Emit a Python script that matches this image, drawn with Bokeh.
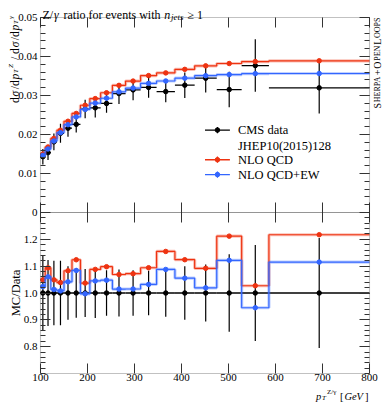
import math
from bokeh.plotting import figure
from bokeh.models import Range1d, LinearAxis, FixedTicker, Label, BoxAnnotation
from bokeh.embed import file_html
from bokeh.resources import INLINE
from bokeh.core.properties import value

# ---------------- data ----------------
bin_edges = [100, 110, 122, 135, 150, 167, 185, 205, 228, 253, 281, 313, 347, 386, 428, 475, 528, 586, 800]
cms_data = [0.01430, 0.01536, 0.01811, 0.02031, 0.02161, 0.02260, 0.02652, 0.02684, 0.02796,
            0.03050, 0.03144, 0.03208, 0.03100, 0.03265, 0.03443, 0.03152, 0.03768, 0.03196]
cms_err = [0.00200, 0.00189, 0.00217, 0.00244, 0.00216, 0.00208, 0.00236, 0.00250, 0.00238,
           0.00268, 0.00267, 0.00266, 0.00273, 0.00327, 0.00365, 0.00454, 0.00675, 0.00655]
nlo_qcd = [0.01500, 0.01680, 0.01900, 0.02110, 0.02340, 0.02540, 0.02750, 0.02920, 0.03070,
           0.03260, 0.03370, 0.03510, 0.03580, 0.03670, 0.03760, 0.03820, 0.03870, 0.03890]
nlo_qcd_ew = [0.01464, 0.01629, 0.01835, 0.02047, 0.02251, 0.02450, 0.02644, 0.02805, 0.02930,
              0.03095, 0.03191, 0.03311, 0.03372, 0.03445, 0.03509, 0.03536, 0.03561, 0.03564]

x_ticks = [100, 200, 300, 400, 500, 600, 700, 800]
top_ticks = [0, 0.01, 0.02, 0.03, 0.04, 0.05]
top_minor = [round(0.002 * k, 4) for k in range(26)]
ratio_ticks = [0.8, 0.9, 1.0, 1.1, 1.2]
ratio_minor = [round(0.7 + 0.02 * k, 2) for k in range(31)]

legend_labels = ["CMS data", "JHEP10(2015)128", "NLO QCD", "NLO QCD+EW"]

# ---------------- style / layout ----------------
FONT = "Liberation Serif"
RED, BLUE, BLACK = "#EE3311", "#3366FF", "#000000"
FRAME = "#333333"
TICK_FS = "11px"

W, H = 382, 402                 # canvas
FL, FR = 40, 369                # panel left / right (canvas px)
FT, FM, FB = 17, 212, 373       # top of main panel, panel split, bottom of ratio panel
X0, X1 = 100, 800
top_end = 0.05
ratio_lo, ratio_hi = 0.7, 1.3

kx = (X1 - X0) / (FR - FL)
ky = top_end / (FM - FT)
kr = (ratio_hi - ratio_lo) / (FB - FM)

p = figure(width=W, height=H,
           x_range=Range1d(X0 - FL * kx, X1 + (W - FR) * kx),
           y_range=Range1d(0 - (H - FM) * ky, top_end + FT * ky),
           x_axis_type=None, y_axis_type=None, toolbar_location=None, output_backend="svg",
           min_border=0, min_border_left=0, min_border_right=0, min_border_top=0, min_border_bottom=0)
p.extra_y_ranges = {"ratio": Range1d(ratio_lo - (H - FB) * kr, ratio_hi + FM * kr)}
p.outline_line_color = None
p.background_fill_color = "white"
p.border_fill_color = "white"


def axis(ticks, minor, loc, yname="default", show=False, tin=10, tout=0, standoff=3, overrides=None):
    ax = LinearAxis(ticker=FixedTicker(ticks=ticks, minor_ticks=minor), fixed_location=loc,
                    y_range_name=yname, axis_line_color=None,
                    major_tick_in=tin, major_tick_out=tout, minor_tick_in=5, minor_tick_out=0,
                    major_tick_line_color=FRAME, minor_tick_line_color=FRAME,
                    major_label_standoff=standoff,
                    major_label_text_font=FONT, major_label_text_font_size=TICK_FS,
                    major_label_text_color=BLACK if show else None)
    if overrides:
        ax.major_label_overrides = overrides
    return ax


ratio_labels = {t: f"{t:.1f}" for t in ratio_ticks}
# y axes (main panel)
p.add_layout(axis(top_ticks, top_minor, X0, show=True, overrides={0: "0"}), "left")
p.add_layout(axis(top_ticks, top_minor, X1), "right")
# y axes (ratio panel)
p.add_layout(axis(ratio_ticks, ratio_minor, X0, yname="ratio", show=True, overrides=ratio_labels), "left")
p.add_layout(axis(ratio_ticks, ratio_minor, X1, yname="ratio"), "right")
# x axes
p.add_layout(axis(x_ticks, [], top_end), "above")
p.add_layout(axis(x_ticks, [], 0, tin=10, tout=10), "below")
p.add_layout(axis(x_ticks, [], ratio_lo, yname="ratio", show=True, standoff=0), "below")

# panel frames
p.add_layout(BoxAnnotation(left=X0, right=X1, bottom=0, top=top_end, fill_color=None,
                           line_color=FRAME, line_width=1.1))
p.add_layout(BoxAnnotation(left=X0, right=X1, bottom=ratio_lo, top=ratio_hi, y_range_name="ratio",
                           fill_color=None, line_color=FRAME, line_width=1.1))

# ---------------- derived quantities ----------------
centers = [(a + b) / 2 for a, b in zip(bin_edges[:-1], bin_edges[1:])]
lefts, rights = bin_edges[:-1], bin_edges[1:]


def stepy(v):
    return list(v) + [v[-1]]


def draw_mc(vals, color, yname="default"):
    p.step(bin_edges, stepy(vals), mode="after", line_color=color, line_width=3.2, line_alpha=0.3,
           y_range_name=yname)
    p.step(bin_edges, stepy(vals), mode="after", line_color=color, line_width=1.2, y_range_name=yname)
    p.scatter(centers, vals, size=4.5, color=color, y_range_name=yname)


def draw_data(vals, errs, yname="default", lw=1.3):
    p.segment(x0=lefts, x1=rights, y0=vals, y1=vals, line_color=BLACK, line_width=lw, y_range_name=yname)
    p.segment(x0=centers, x1=centers, y0=[v - e for v, e in zip(vals, errs)],
              y1=[v + e for v, e in zip(vals, errs)], line_color=BLACK, line_width=1.2, y_range_name=yname)
    p.scatter(centers, vals, size=4.5, color=BLACK, y_range_name=yname)


# main panel
draw_data(cms_data, cms_err)
draw_mc(nlo_qcd, RED)
draw_mc(nlo_qcd_ew, BLUE)

# ratio panel
r_data = [d / d for d in cms_data]
r_err = [e / d for e, d in zip(cms_err, cms_data)]
r_qcd = [m / d for m, d in zip(nlo_qcd, cms_data)]
r_ew = [m / d for m, d in zip(nlo_qcd_ew, cms_data)]
draw_data(r_data, r_err, "ratio", lw=1.6)
draw_mc(r_qcd, RED, "ratio")
draw_mc(r_ew, BLUE, "ratio")

# ---------------- legend (layout positions in data space of the main panel) ----------------
leg_x0, leg_x1, leg_xt = 450, 503, 520
leg_rows = [0.02114, 0.01693, 0.01353, 0.00972]
leg_bar = 0.0008
leg_colors = [BLACK, None, RED, BLUE]
for lab, yy, col in zip(legend_labels, leg_rows, leg_colors):
    if col is not None:
        xm = (leg_x0 + leg_x1) / 2
        p.segment(x0=[leg_x0], x1=[leg_x1], y0=[yy], y1=[yy], line_color=col, line_width=1.3)
        p.segment(x0=[xm], x1=[xm], y0=[yy - leg_bar], y1=[yy + leg_bar], line_color=col, line_width=1.2)
        p.scatter([xm], [yy], size=4.5, color=col)
    p.text(x=[leg_xt], y=[yy], text=[lab], text_font=value(FONT), text_font_size="12.5px",
           text_baseline="middle", text_align="left", text_color=BLACK)

# ---------------- free texts ----------------
EM = {' ': .25, '/': .278, '+': .564, '(': .333, ')': .333, '[': .333, ']': .333, '.': .25,
      '≥': .549, 'σ': .55, 'γ': .48,
      'A': .722, 'C': .667, 'D': .722, 'E': .611, 'G': .722, 'H': .722, 'J': .389, 'L': .611,
      'M': .889, 'N': .722, 'O': .722, 'P': .556, 'Q': .722, 'R': .667, 'S': .556, 'T': .611,
      'V': .722, 'W': .944, 'Z': .611,
      'a': .444, 'd': .5, 'e': .444, 'f': .333, 'h': .5, 'i': .278, 'j': .278, 'n': .5, 'o': .5,
      'p': .5, 'r': .333, 's': .389, 't': .278, 'v': .5, 'w': .722}
GAP = 0.8


def tw(t, s):
    return sum(EM.get(c, .5) for c in t) * s


def place(pieces, x0, y0, rotated=False, anchor="start"):
    total = sum(tw(t, s) + GAP for t, s, st, dy in pieces) - GAP
    pos = 0.0
    for t, s, st, dy in pieces:
        lead = tw(t[:len(t) - len(t.lstrip(" "))], s)
        txt = t.strip(" ")
        if rotated:
            ystart = y0 + total if anchor == "end" else y0
            lx, ly = x0 + dy, ystart - pos - lead
        else:
            xstart = x0 - total if anchor == "end" else x0
            lx, ly = xstart + pos + lead, y0 + dy
        p.add_layout(Label(x=lx, y=ly, x_units="canvas", y_units="canvas", text=txt,
                           text_font=FONT, text_font_size=f"{s}px", text_font_style=st,
                           angle=math.pi / 2 if rotated else 0, text_align="left",
                           text_baseline="alphabetic", text_color=BLACK))
        pos += tw(t, s) + GAP


N, I = "normal", "italic"
# title
place([("Z/", 12, N, 0), ("γ", 12, I, 0), (" ratio for events with ", 12, N, 0),
       ("n", 12, I, 0), ("jets", 9, I, 1.8), (" ≥ 1", 12, N, 0)], 42, 14.8)
# y label main panel
place([("d", 11.5, N, 0), ("σ", 11.5, I, 0), ("/d", 11.5, N, 0), ("p", 11.5, I, 0),
       ("T", 7, I, 1.5), ("Z", 7, I, -4), (" / d", 11.5, N, 0), ("σ", 11.5, I, 0),
       ("/d", 11.5, N, 0), ("p", 11.5, I, 0), ("T", 7, I, 1.5), ("γ", 7, I, -4)],
      14.3, 15, rotated=True, anchor="end")
# y label ratio panel
p.add_layout(Label(x=15.2, y=(FM + FB) / 2, x_units="canvas", y_units="canvas", text="MC/Data",
                   text_font=FONT, text_font_size="12.5px", angle=math.pi / 2, text_align="center",
                   text_baseline="alphabetic", text_color=BLACK))
# x label
place([("p", 10.5, I, 0), ("T", 7, I, 1.2), ("Z/γ", 7, N, -4), (" [", 10.5, N, 0),
       ("GeV", 10.5, I, 0), ("]", 10.5, N, 0)], 368, 395.8, anchor="end")
# generator tag (small caps)
place([("S", 10, N, 0), ("HERPA", 8, N, 0), ("+", 10, N, 0), ("O", 10, N, 0),
       ("PEN", 8, N, 0), ("L", 10, N, 0), ("OOPS", 8, N, 0)],
      376.8, 17, rotated=True, anchor="end")

open("out.html", "w").write(file_html(p, INLINE))
